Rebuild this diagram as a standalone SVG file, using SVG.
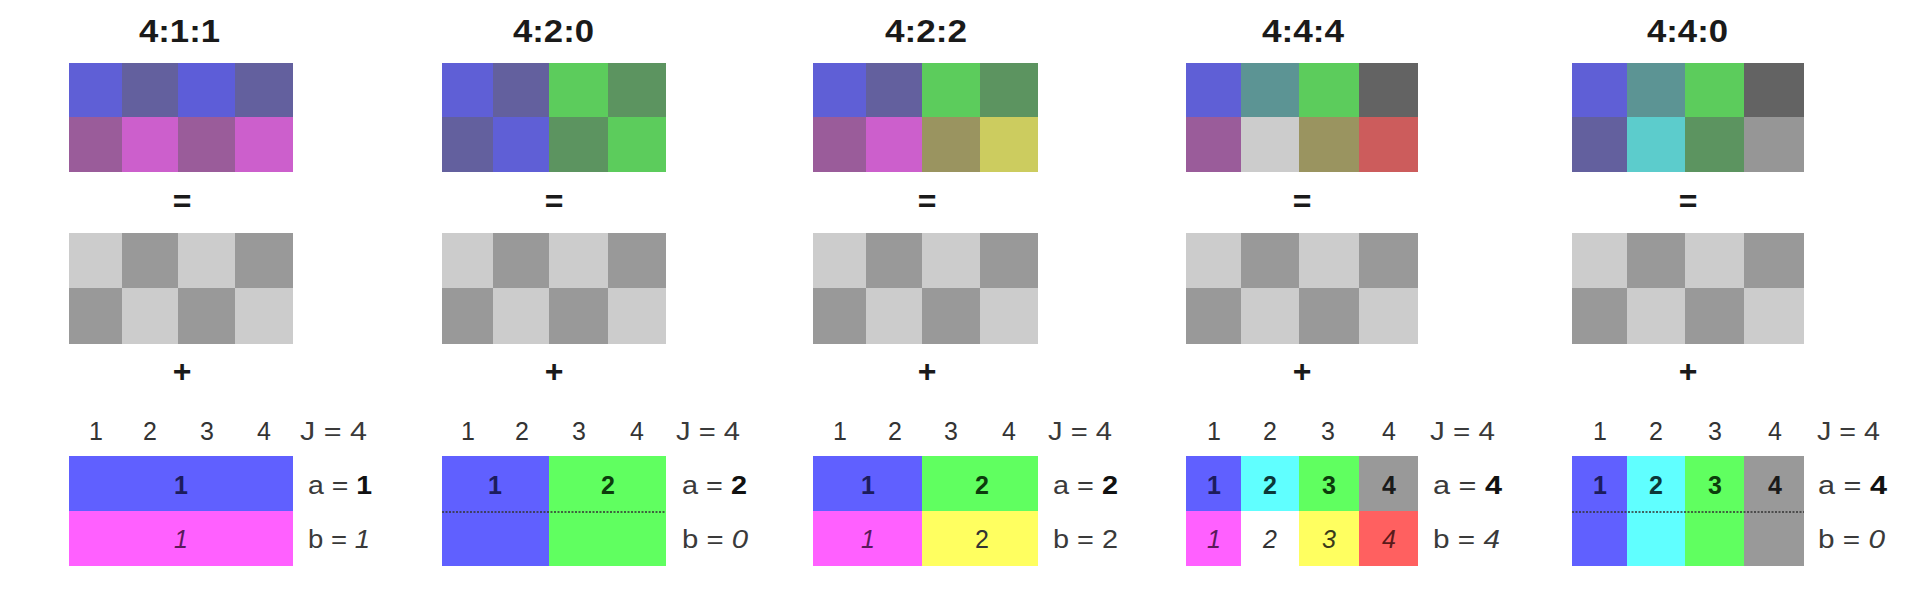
<svg xmlns="http://www.w3.org/2000/svg" width="1920" height="595" viewBox="0 0 1920 595">
<style>
text{font-family:"Liberation Sans",Arial,sans-serif}
.t{font-weight:bold;font-size:31px;fill:#1a1a1a}
.op{font-weight:bold;font-size:32px;fill:#1a1a1a;text-anchor:middle}
.n{font-size:25px;fill:#333;text-anchor:middle}
.l{font-size:25px;fill:#3a3a3a}
.b{font-weight:bold;fill:#111}
.i{font-style:italic}
.cb{font-weight:bold;font-size:25px;text-anchor:middle}
.ci{font-style:italic;font-size:25px;text-anchor:middle}
.L{fill:#cccccc}.D{fill:#999999}
.dash{stroke:#333;stroke-width:1.5;stroke-dasharray:2 1.5;fill:none}
</style>
<rect width="1920" height="595" fill="#ffffff"/>

<g id="p411">
<text class="t" x="139" y="42" textLength="81" lengthAdjust="spacingAndGlyphs">4:1:1</text>
<rect x="69" y="63" width="53" height="54" fill="#5f5fd6"/>
<rect x="122" y="63" width="56" height="54" fill="#63609e"/>
<rect x="178" y="63" width="57" height="54" fill="#5d5dd8"/>
<rect x="235" y="63" width="58" height="54" fill="#63609e"/>
<rect x="69" y="117" width="53" height="55" fill="#9a5c9a"/>
<rect x="122" y="117" width="56" height="55" fill="#cc5fcc"/>
<rect x="178" y="117" width="57" height="55" fill="#9a5c9a"/>
<rect x="235" y="117" width="58" height="55" fill="#cc5fcc"/>
<text class="op" x="182" y="212">=</text>
<rect class="L" x="69" y="233" width="53" height="55"/>
<rect class="D" x="122" y="233" width="56" height="55"/>
<rect class="L" x="178" y="233" width="57" height="55"/>
<rect class="D" x="235" y="233" width="58" height="55"/>
<rect class="D" x="69" y="288" width="53" height="56"/>
<rect class="L" x="122" y="288" width="56" height="56"/>
<rect class="D" x="178" y="288" width="57" height="56"/>
<rect class="L" x="235" y="288" width="58" height="56"/>
<text class="op" x="182" y="382">+</text>
<text class="n" x="96" y="440">1</text>
<text class="n" x="150" y="440">2</text>
<text class="n" x="207" y="440">3</text>
<text class="n" x="264" y="440">4</text>
<text class="l" x="300" y="440" textLength="67" lengthAdjust="spacingAndGlyphs">J = 4</text>
<rect x="69" y="456" width="224" height="55" fill="#6060ff"/>
<rect x="69" y="511" width="224" height="55" fill="#ff60ff"/>
<text class="cb" x="181" y="494" fill="#1c1c5c">1</text>
<text class="ci" x="181" y="548" fill="#5a1a5a">1</text>
<text class="l" x="308" y="494" textLength="64" lengthAdjust="spacingAndGlyphs">a = <tspan class="b">1</tspan></text>
<text class="l" x="308" y="548" textLength="62" lengthAdjust="spacingAndGlyphs">b = <tspan class="i">1</tspan></text>
</g>

<g id="p420">
<text class="t" x="513" y="42" textLength="81" lengthAdjust="spacingAndGlyphs">4:2:0</text>
<rect x="442" y="63" width="51" height="54" fill="#5f5fd6"/>
<rect x="493" y="63" width="56" height="54" fill="#63609e"/>
<rect x="549" y="63" width="59" height="54" fill="#5ccc5c"/>
<rect x="608" y="63" width="58" height="54" fill="#5c9460"/>
<rect x="442" y="117" width="51" height="55" fill="#63609e"/>
<rect x="493" y="117" width="56" height="55" fill="#5f5fd6"/>
<rect x="549" y="117" width="59" height="55" fill="#5c9460"/>
<rect x="608" y="117" width="58" height="55" fill="#5ccc5c"/>
<text class="op" x="554" y="212">=</text>
<rect class="L" x="442" y="233" width="51" height="55"/>
<rect class="D" x="493" y="233" width="56" height="55"/>
<rect class="L" x="549" y="233" width="59" height="55"/>
<rect class="D" x="608" y="233" width="58" height="55"/>
<rect class="D" x="442" y="288" width="51" height="56"/>
<rect class="L" x="493" y="288" width="56" height="56"/>
<rect class="D" x="549" y="288" width="59" height="56"/>
<rect class="L" x="608" y="288" width="58" height="56"/>
<text class="op" x="554" y="382">+</text>
<text class="n" x="468" y="440">1</text>
<text class="n" x="522" y="440">2</text>
<text class="n" x="579" y="440">3</text>
<text class="n" x="637" y="440">4</text>
<text class="l" x="676" y="440" textLength="64" lengthAdjust="spacingAndGlyphs">J = 4</text>
<rect x="442" y="456" width="107" height="110" fill="#6060ff"/>
<rect x="549" y="456" width="117" height="110" fill="#60ff60"/>
<line class="dash" x1="442" y1="512" x2="666" y2="512"/>
<text class="cb" x="495" y="494" fill="#1c1c5c">1</text>
<text class="cb" x="608" y="494" fill="#0c3c0c">2</text>
<text class="l" x="682" y="494" textLength="65" lengthAdjust="spacingAndGlyphs">a = <tspan class="b">2</tspan></text>
<text class="l" x="682" y="548" textLength="66" lengthAdjust="spacingAndGlyphs">b = <tspan class="i">0</tspan></text>
</g>

<g id="p422">
<text class="t" x="885" y="42" textLength="82" lengthAdjust="spacingAndGlyphs">4:2:2</text>
<rect x="813" y="63" width="53" height="54" fill="#5f5fd6"/>
<rect x="866" y="63" width="56" height="54" fill="#63609e"/>
<rect x="922" y="63" width="58" height="54" fill="#5ccc5c"/>
<rect x="980" y="63" width="58" height="54" fill="#5c9460"/>
<rect x="813" y="117" width="53" height="55" fill="#9a5c9a"/>
<rect x="866" y="117" width="56" height="55" fill="#cc5fcc"/>
<rect x="922" y="117" width="58" height="55" fill="#9a9460"/>
<rect x="980" y="117" width="58" height="55" fill="#cccc5f"/>
<text class="op" x="927" y="212">=</text>
<rect class="L" x="813" y="233" width="53" height="55"/>
<rect class="D" x="866" y="233" width="56" height="55"/>
<rect class="L" x="922" y="233" width="58" height="55"/>
<rect class="D" x="980" y="233" width="58" height="55"/>
<rect class="D" x="813" y="288" width="53" height="56"/>
<rect class="L" x="866" y="288" width="56" height="56"/>
<rect class="D" x="922" y="288" width="58" height="56"/>
<rect class="L" x="980" y="288" width="58" height="56"/>
<text class="op" x="927" y="382">+</text>
<text class="n" x="840" y="440">1</text>
<text class="n" x="895" y="440">2</text>
<text class="n" x="951" y="440">3</text>
<text class="n" x="1009" y="440">4</text>
<text class="l" x="1048" y="440" textLength="64" lengthAdjust="spacingAndGlyphs">J = 4</text>
<rect x="813" y="456" width="109" height="55" fill="#6060ff"/>
<rect x="922" y="456" width="116" height="55" fill="#60ff60"/>
<rect x="813" y="511" width="109" height="55" fill="#ff60ff"/>
<rect x="922" y="511" width="116" height="55" fill="#ffff60"/>
<text class="cb" x="868" y="494" fill="#1c1c5c">1</text>
<text class="cb" x="982" y="494" fill="#0c3c0c">2</text>
<text class="ci" x="868" y="548" fill="#5a1a5a">1</text>
<text class="n" x="982" y="548" fill="#3a3a1a">2</text>
<text class="l" x="1053" y="494" textLength="65" lengthAdjust="spacingAndGlyphs">a = <tspan class="b">2</tspan></text>
<text class="l" x="1053" y="548" textLength="65" lengthAdjust="spacingAndGlyphs">b = 2</text>
</g>

<g id="p444">
<text class="t" x="1262" y="42" textLength="82" lengthAdjust="spacingAndGlyphs">4:4:4</text>
<rect x="1186" y="63" width="55" height="54" fill="#5f5fd6"/>
<rect x="1241" y="63" width="58" height="54" fill="#5c9494"/>
<rect x="1299" y="63" width="60" height="54" fill="#5ccc5c"/>
<rect x="1359" y="63" width="59" height="54" fill="#636363"/>
<rect x="1186" y="117" width="55" height="55" fill="#9a5c9a"/>
<rect x="1241" y="117" width="58" height="55" fill="#cccccc"/>
<rect x="1299" y="117" width="60" height="55" fill="#9a9460"/>
<rect x="1359" y="117" width="59" height="55" fill="#cc5c5c"/>
<text class="op" x="1302" y="212">=</text>
<rect class="L" x="1186" y="233" width="55" height="55"/>
<rect class="D" x="1241" y="233" width="58" height="55"/>
<rect class="L" x="1299" y="233" width="60" height="55"/>
<rect class="D" x="1359" y="233" width="59" height="55"/>
<rect class="D" x="1186" y="288" width="55" height="56"/>
<rect class="L" x="1241" y="288" width="58" height="56"/>
<rect class="D" x="1299" y="288" width="60" height="56"/>
<rect class="L" x="1359" y="288" width="59" height="56"/>
<text class="op" x="1302" y="382">+</text>
<text class="n" x="1214" y="440">1</text>
<text class="n" x="1270" y="440">2</text>
<text class="n" x="1328" y="440">3</text>
<text class="n" x="1389" y="440">4</text>
<text class="l" x="1430" y="440" textLength="65" lengthAdjust="spacingAndGlyphs">J = 4</text>
<rect x="1186" y="456" width="55" height="55" fill="#6060ff"/>
<rect x="1241" y="456" width="58" height="55" fill="#60ffff"/>
<rect x="1299" y="456" width="60" height="55" fill="#60ff60"/>
<rect x="1359" y="456" width="59" height="55" fill="#999999"/>
<rect x="1186" y="511" width="55" height="55" fill="#ff60ff"/>
<rect x="1299" y="511" width="60" height="55" fill="#ffff60"/>
<rect x="1359" y="511" width="59" height="55" fill="#ff6060"/>
<text class="cb" x="1214" y="494" fill="#1c1c5c">1</text>
<text class="cb" x="1270" y="494" fill="#0c3838">2</text>
<text class="cb" x="1329" y="494" fill="#0c3c0c">3</text>
<text class="cb" x="1389" y="494" fill="#1a1a1a">4</text>
<text class="ci" x="1214" y="548" fill="#5a1a5a">1</text>
<text class="ci" x="1270" y="548" fill="#333333">2</text>
<text class="ci" x="1329" y="548" fill="#3a3a1a">3</text>
<text class="ci" x="1389" y="548" fill="#5a1a1a">4</text>
<text class="l" x="1433" y="494" textLength="69" lengthAdjust="spacingAndGlyphs">a = <tspan class="b">4</tspan></text>
<text class="l" x="1433" y="548" textLength="67" lengthAdjust="spacingAndGlyphs">b = <tspan class="i">4</tspan></text>
</g>

<g id="p440">
<text class="t" x="1647" y="42" textLength="81" lengthAdjust="spacingAndGlyphs">4:4:0</text>
<rect x="1572" y="63" width="55" height="54" fill="#5f5fd6"/>
<rect x="1627" y="63" width="58" height="54" fill="#5c9494"/>
<rect x="1685" y="63" width="59" height="54" fill="#5ccc5c"/>
<rect x="1744" y="63" width="60" height="54" fill="#636363"/>
<rect x="1572" y="117" width="55" height="55" fill="#63609e"/>
<rect x="1627" y="117" width="58" height="55" fill="#5ccccc"/>
<rect x="1685" y="117" width="59" height="55" fill="#5c9460"/>
<rect x="1744" y="117" width="60" height="55" fill="#969696"/>
<text class="op" x="1688" y="212">=</text>
<rect class="L" x="1572" y="233" width="55" height="55"/>
<rect class="D" x="1627" y="233" width="58" height="55"/>
<rect class="L" x="1685" y="233" width="59" height="55"/>
<rect class="D" x="1744" y="233" width="60" height="55"/>
<rect class="D" x="1572" y="288" width="55" height="56"/>
<rect class="L" x="1627" y="288" width="58" height="56"/>
<rect class="D" x="1685" y="288" width="59" height="56"/>
<rect class="L" x="1744" y="288" width="60" height="56"/>
<text class="op" x="1688" y="382">+</text>
<text class="n" x="1600" y="440">1</text>
<text class="n" x="1656" y="440">2</text>
<text class="n" x="1715" y="440">3</text>
<text class="n" x="1775" y="440">4</text>
<text class="l" x="1817" y="440" textLength="63" lengthAdjust="spacingAndGlyphs">J = 4</text>
<rect x="1572" y="456" width="55" height="110" fill="#6060ff"/>
<rect x="1627" y="456" width="58" height="110" fill="#60ffff"/>
<rect x="1685" y="456" width="59" height="110" fill="#60ff60"/>
<rect x="1744" y="456" width="60" height="110" fill="#999999"/>
<line class="dash" x1="1572" y1="512" x2="1804" y2="512"/>
<text class="cb" x="1600" y="494" fill="#1c1c5c">1</text>
<text class="cb" x="1656" y="494" fill="#0c3838">2</text>
<text class="cb" x="1715" y="494" fill="#0c3c0c">3</text>
<text class="cb" x="1775" y="494" fill="#1a1a1a">4</text>
<text class="l" x="1818" y="494" textLength="69" lengthAdjust="spacingAndGlyphs">a = <tspan class="b">4</tspan></text>
<text class="l" x="1818" y="548" textLength="67" lengthAdjust="spacingAndGlyphs">b = <tspan class="i">0</tspan></text>
</g>
</svg>
